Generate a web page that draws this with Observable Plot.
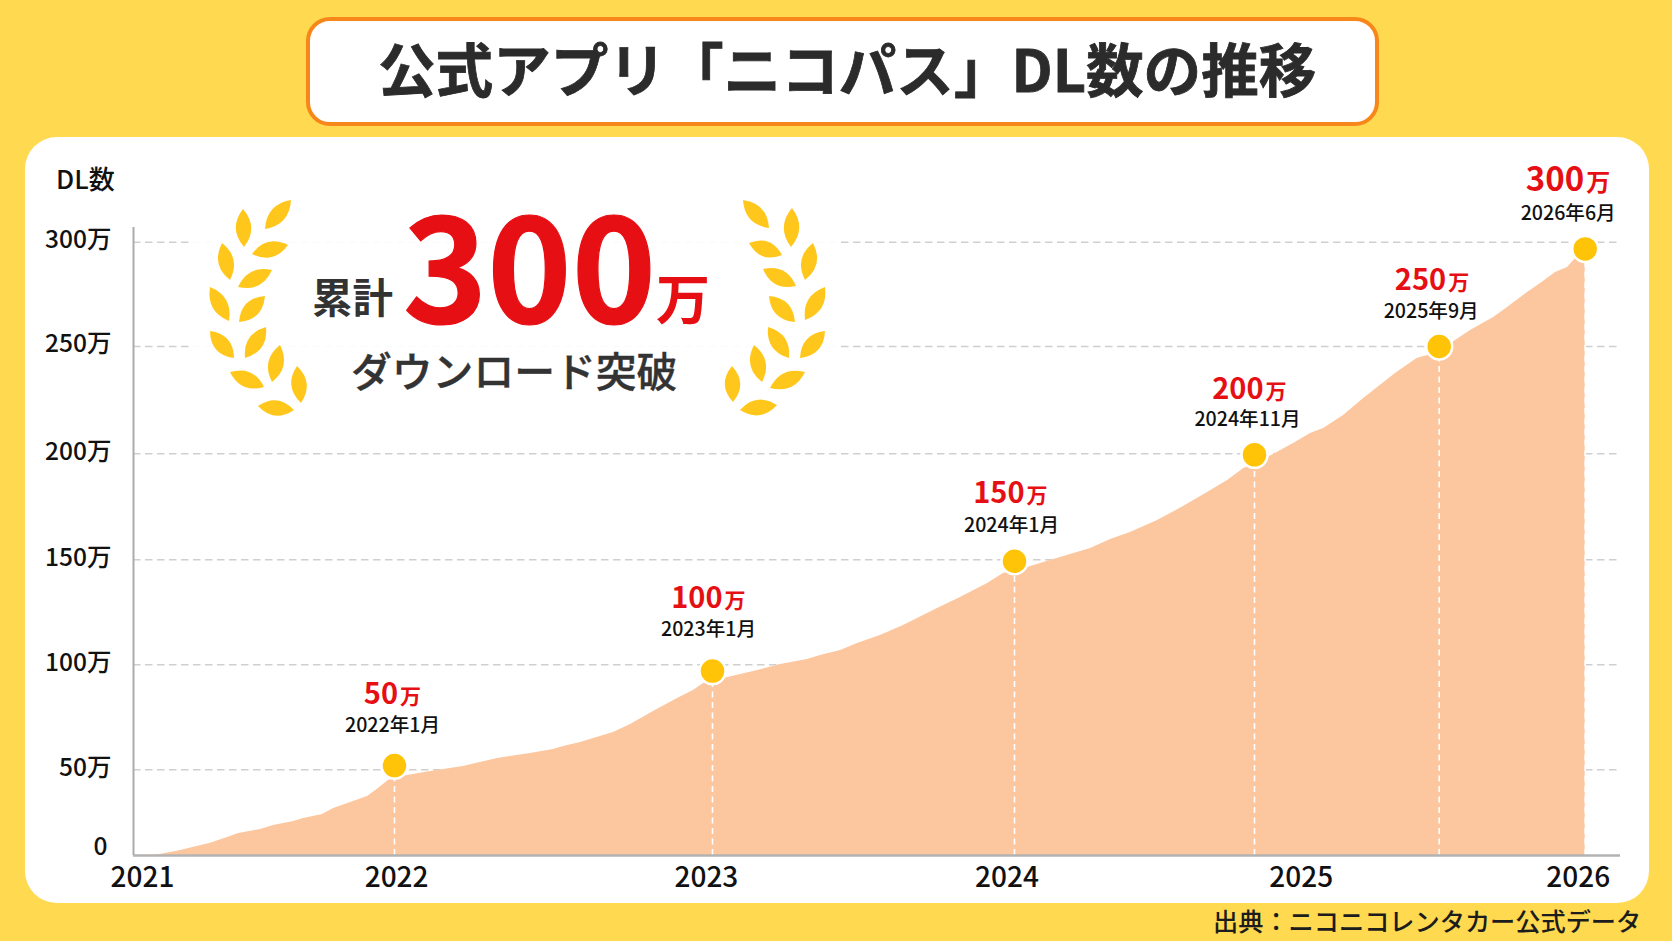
<!DOCTYPE html>
<html lang="ja">
<head>
<meta charset="utf-8">
<script src="https://cdn.jsdelivr.net/npm/d3@7"></script>
<script src="https://cdn.jsdelivr.net/npm/@observablehq/plot@0.6"></script>
<style>
  html,body{margin:0;padding:0;width:1672px;height:941px;overflow:hidden;background:#FFD94F;font-family:"Noto Sans CJK JP","Noto Sans",sans-serif;}
  .abs{position:absolute;white-space:nowrap;line-height:1;}
  #card{left:25px;top:137px;width:1624px;height:766px;background:#fff;border-radius:32px;}
  #titlebox{left:306px;top:17px;width:1065px;height:101px;background:#fff;border:4px solid #F7871B;border-radius:24px;}
  #title{left:378px;top:39px;font-size:57.6px;font-weight:700;color:#2b2b2b;-webkit-text-stroke:0.8px #2b2b2b;}
  #chart{position:absolute;left:0;top:0;}
  #veil{left:190px;top:205px;width:648px;height:215px;background:rgba(255,255,255,.9);}
  #ylabel{left:56px;top:165px;font-size:26px;font-weight:500;color:#111;}
  #source{left:1213px;top:908px;font-size:25.2px;font-weight:500;color:#1c1c1c;}
  #wreath{position:absolute;left:0;top:0;}
  .sum{color:#333;font-weight:700;}
  .big{color:#E60F14;font-weight:700;}
</style>
</head>
<body>
<div id="card" class="abs"></div>
<div id="titlebox" class="abs"></div>
<div id="title" class="abs">公式アプリ「ニコパス」DL数の推移</div>
<div id="chartwrap"></div>
<div id="veil" class="abs"></div>
<div id="ylabel" class="abs">DL数</div>
<div id="source" class="abs">出典：ニコニコレンタカー公式データ</div>
<div class="abs sum" style="left:312px;top:276px;font-size:40.5px;">累計</div>
<div class="abs big" style="left:403px;top:204px;font-size:143px;line-height:.8;-webkit-text-stroke:1.2px #E60F14;">300</div>
<div class="abs big" style="left:656px;top:270px;font-size:54px;">万</div>
<div class="abs sum" style="left:351px;top:350px;font-size:40.8px;font-weight:500;-webkit-text-stroke:0.4px #333;">ダウンロード突破</div>
<script>
// Months since January 2021 and cumulative downloads (万)
const months = [0,1.1,2.16,3.54,4.32,4.83,5.84,6.44,7.36,7.82,8.69,9.2,9.98,10.76,11.2,11.72,12,12.49,13.36,14.6,15.89,17.13,18,18.38,19.02,20.26,20.91,21.77,22.68,23.28,23.66,24,24.44,25.63,26.7,27.77,28.29,29.09,29.76,30.67,31.59,32.94,33.85,34.93,35.56,36,36.54,37.63,39.17,40,40.83,41.96,43.04,44.04,44.88,45.54,46,47.03,48.11,49.03,49.74,50.82,51.91,53.63,54.82,56,56.82,57.93,59.35,59.96,61.44,62.25,63.17,63.91,64.4,65];
const downloads = [0,0.3,2.9,7.2,10.5,12.8,15.2,17.5,19.8,21.6,23.9,27.4,30.9,34.4,38.5,43.8,44.9,46.7,49,51.6,55.4,57.8,59.7,61.1,63,67.8,71.6,77.8,84,87.8,91.1,92.5,93.5,96.8,100.1,102.5,104.4,106.8,110.1,114,118.7,126.8,132,138.7,143.5,144.9,146.3,150.1,155.3,159.6,162.9,168.5,175.1,181.7,187.4,193,195.4,199.7,204.8,209.5,211.8,217.8,225.8,237.4,244.5,247.2,251.9,257.7,263.9,267.3,275.9,280.2,285.5,287.9,292.2,294.6];

// Milestones
const milestoneMonths = [12,24,36,46,56,65];
const milestoneValues = [52,97,149.3,199.5,250,296.8];
const milestoneLabels = ["50","100","150","200","250","300"];
const milestoneDates = ["2022年1月","2023年1月","2024年1月","2024年11月","2025年9月","2026年6月"];

// Axis labels
const yearLabels = ["2021","2022","2023","2024","2025","2026"];
const yearLabelMonths = [0.41,12.08,23.77,35.7,48.53,64.57];
const yTicks = [50,100,150,200,250,300];

// The picture's axes are not uniform: piecewise scales
const xDomain = [0,12,24,36,46,56,65];
const xRange  = [133,394,712,1014,1254,1438.7,1584.7];
const yDomain = [0,50,100,150,200,250,300];
const yRange  = [855,769.3,664.3,559.3,453.3,346,241.7];

// Per-label placement relative to its dot (pixels)
const splitDx = [4.5,11,11,10,8,0];
const valueDy = [-62,-62.7,-58.7,-56.3,-56.6,-57.6];
const dateDx  = [-2,-4,-3,-7,-8,-17];
const dateDy  = [-40,-41,-36,-35.3,-34.6,-35];
const valueSize = [29,29,29,29,29,33];
const unitSize  = [21,21,21,21,21,24];

const FONT = '"Noto Sans CJK JP","Noto Sans",sans-serif';
const RED = "#E60F14";
const curve = months.map((m,i)=>({m, v:downloads[i]}));
const stones = milestoneMonths.map((m,i)=>({m, v:milestoneValues[i], i}));

const labelMarks = stones.flatMap(d=>[
  Plot.text([d],{x:"m",y:"v",text:()=>milestoneLabels[d.i],dx:splitDx[d.i]-1,dy:valueDy[d.i],textAnchor:"end",lineAnchor:"bottom",fontSize:valueSize[d.i],fontWeight:700,fill:RED}),
  Plot.text([d],{x:"m",y:"v",text:()=>"万",dx:splitDx[d.i]+1,dy:valueDy[d.i],textAnchor:"start",lineAnchor:"bottom",fontSize:unitSize[d.i],fontWeight:700,fill:RED}),
  Plot.text([d],{x:"m",y:"v",text:()=>milestoneDates[d.i],dx:dateDx[d.i],dy:dateDy[d.i],fontSize:19.6,fontWeight:500,fill:"#111"})
]);

const chart = Plot.plot({
  width:1672,height:941,
  marginLeft:133,marginRight:52,marginTop:227,marginBottom:86,
  style:{background:"transparent",fontFamily:FONT,overflow:"visible"},
  x:{type:"linear",domain:xDomain,range:xRange},
  y:{type:"linear",domain:yDomain,range:yRange},
  marks:[
    Plot.ruleY(yTicks,{stroke:"#cfcfcf",strokeWidth:1.6,strokeDasharray:"7.5 4.5"}),
    Plot.areaY(curve,{x:"m",y:"v",fill:"#FCC79E"}),
    Plot.ruleX(stones,{x:"m",y1:0,y2:"v",stroke:"#fff",strokeWidth:1.6,strokeDasharray:"6 4.5"}),
    Plot.ruleY([0],{stroke:"#b3b3b3",strokeWidth:2.5}),
    Plot.ruleX([0],{stroke:"#ababab",strokeWidth:2}),
    Plot.axisY({ticks:yTicks,tickFormat:d=>d+"万",tickSize:0,tickPadding:22,dy:-2,fontSize:24.5,fontWeight:500,label:null,color:"#111"}),
    Plot.axisY({ticks:[0],tickFormat:d=>String(d),tickSize:0,tickPadding:26,dy:-8,fontSize:24.5,fontWeight:500,label:null,color:"#111"}),
    Plot.axisX({ticks:yearLabelMonths,tickFormat:(d,i)=>yearLabels[i],tickSize:0,tickPadding:12,fontSize:28,fontWeight:500,label:null,color:"#111"}),
    Plot.dot(stones,{x:"m",y:"v",r:13,fill:"#FFC407",stroke:"#fff",strokeWidth:2.5}),
    ...labelMarks
  ]
});
chart.id="chart";
document.getElementById("chartwrap").appendChild(chart);

// Decorative laurels: leaf tips [x1,y1,x2,y2] in pixels
const leaves = [
 [291,200,265,229],[243,209,244,247],[288,245,252,254],[222,243,230,280],[272,270,238,287],[210,287,229,321],[265,296,239,322],[210,331,234,358],[266,327,245,358],[280,345,272,382],[230,372,264,387],[297,366,301,403],[258,406,294,410],
 [743,200,769,228],[792,208,791,247],[749,243,782,255],[813,243,805,280],[763,269,796,286],[825,287,805,320],[769,296,795,322],[825,331,800,358],[768,327,789,358],[754,345,762,382],[805,372,770,388],[732,366,733,402],[777,405,740,410]
];
const ns="http://www.w3.org/2000/svg";
const w=document.createElementNS(ns,"svg");
w.setAttribute("id","wreath");w.setAttribute("width",1672);w.setAttribute("height",941);
leaves.forEach(([x1,y1,x2,y2])=>{
  const mx=(x1+x2)/2,my=(y1+y2)/2,dx=x2-x1,dy=y2-y1,len=Math.hypot(dx,dy),nx=-dy/len*15.5,ny=dx/len*15.5;
  const p=document.createElementNS(ns,"path");
  p.setAttribute("d",`M${x1} ${y1}Q${mx+nx} ${my+ny} ${x2} ${y2}Q${mx-nx} ${my-ny} ${x1} ${y1}Z`);
  p.setAttribute("fill","#FFC71C");
  w.appendChild(p);
});
document.body.insertBefore(w,document.getElementById("ylabel"));
</script>
</body>
</html>
